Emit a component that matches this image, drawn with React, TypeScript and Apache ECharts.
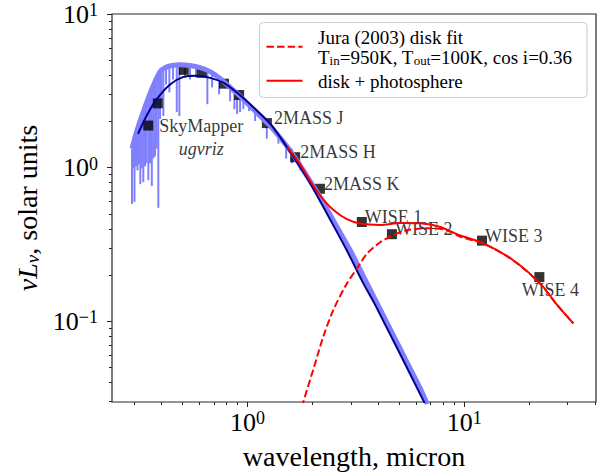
import React, { useEffect, useRef } from 'react';
import * as echarts from 'echarts';

// ---- photometry (squares) ----
const photWave = [0.349, 0.386, 0.509, 0.616, 0.78, 0.916, 1.23, 1.66, 2.16, 3.37, 4.64, 12.07, 22.2];
const photLum = [1.88, 2.62, 4.33, 4.14, 3.52, 2.97, 1.95, 1.17, 0.729, 0.443, 0.369, 0.335, 0.194];
const photLabels = ['SkyMapper', '', '', '', '', '', '2MASS J', '2MASS H', '2MASS K', 'WISE 1', 'WISE 2', 'WISE 3', 'WISE 4'];

// ---- photosphere model (dark blue) ----
const navyWave = [0.313, 0.343, 0.382, 0.44, 0.507, 0.584, 0.673, 0.775, 0.894, 1.066, 1.273, 1.416, 1.66, 1.947, 2.408, 2.875, 3.43, 3.884, 6.54, 7.2];
const navyLum = [1.66, 2.18, 2.79, 3.48, 3.9, 3.97, 3.84, 3.57, 3.08, 2.47, 1.93, 1.58, 1.13, 0.793, 0.459, 0.289, 0.176, 0.128, 0.0297, 0.0224];

// ---- observed spectrum (light blue): continuum band + absorption dips ----
const bandWave = [0.2937, 0.3064, 0.3198, 0.3372, 0.3556, 0.3751, 0.3956, 0.4171, 0.4493, 0.4892, 0.5439, 0.6048, 0.6729, 0.7477, 0.8321, 0.9254, 1.029, 1.144, 1.273, 1.416, 1.575, 1.751, 1.947, 2.165, 2.408, 2.678, 2.978, 3.313, 3.684, 4.097, 4.556, 5.067, 5.634, 6.266, 6.75];
const bandLum = [1.33, 1.661, 2.013, 2.476, 3.045, 3.637, 4.216, 4.473, 4.62, 4.68, 4.62, 4.473, 4.216, 3.802, 3.329, 2.914, 2.513, 2.168, 1.869, 1.565, 1.291, 1.035, 0.817, 0.6446, 0.4939, 0.3784, 0.2901, 0.2158, 0.1605, 0.1194, 0.0888, 0.0661, 0.0492, 0.0366, 0.0289];
const dipWave = [0.2937, 0.2984, 0.3016, 0.3064, 0.3113, 0.3164, 0.3208, 0.326, 0.3312, 0.3372, 0.3426, 0.3493, 0.3556, 0.3625, 0.3683, 0.3751, 0.3818, 0.3884, 0.3956, 0.4019, 0.4097, 0.4216, 0.4367, 0.4541, 0.4723, 0.4856, 0.5159, 0.5439, 0.5798, 0.6537, 0.6874, 0.7403, 0.8321, 0.871, 0.8965, 0.9254, 0.9583, 1.018, 1.085, 1.229, 1.39, 1.509, 1.603, 1.751];
const dipTop = [1.33, 1.411, 1.497, 1.636, 1.762, 1.897, 2.042, 2.168, 2.333, 2.476, 2.627, 2.829, 3.045, 3.231, 3.428, 3.637, 3.859, 4.034, 4.216, 4.343, 4.473, 4.539, 4.607, 4.607, 4.607, 4.607, 4.607, 4.607, 4.539, 4.343, 4.154, 3.859, 3.329, 3.184, 3.09, 2.914, 2.746, 2.55, 2.333, 1.897, 1.589, 1.37, 1.33, 1.035];
const dipBottom = [0.581, 0.99, 0.5985, 1.019, 0.961, 1.05, 0.781, 0.99, 0.805, 1.019, 1.066, 0.829, 1.066, 0.759, 1.147, 1.182, 1.33, 0.548, 2.073, 2.787, 2.168, 3.479, 3.09, 3.746, 2.299, 2.168, 3.859, 3.746, 3.859, 2.588, 3.329, 3.0, 2.705, 2.404, 2.232, 2.299, 2.404, 2.333, 2.013, 1.542, 1.432, 1.147, 1.066, 0.961];

// ---- Jura (2003) disk fit (red dashed) ----
const diskWave = [1.779, 2.017, 2.242, 2.494, 2.875, 3.198, 3.556, 4.097, 4.638, 5.441, 6.73, 8.17, 9.58, 12.28, 16.89, 22.42, 26.78, 31.84];
const diskLum = [0.0276, 0.049, 0.08, 0.119, 0.176, 0.22, 0.275, 0.327, 0.36, 0.392, 0.403, 0.395, 0.355, 0.32, 0.248, 0.175, 0.128, 0.097];

// ---- disk + photosphere (red solid) ----
const totWave = [1.53, 1.66, 1.751, 2.017, 2.242, 2.494, 2.875, 3.313, 4.097, 5.067, 6.266, 7.75, 9.58, 12.28, 16.89, 22.42, 26.78, 31.84];
const totLum = [1.36, 1.17, 1.05, 0.76, 0.62, 0.53, 0.462, 0.433, 0.424, 0.437, 0.434, 0.411, 0.362, 0.322, 0.249, 0.176, 0.128, 0.097];

// ---- axes ----
const xRange = [0.2375, 40.5];
const yRange = [0.02985, 10];
const xMajor = [1, 10];
const yMajor = [0.1, 1, 10];
const xMinor = [0.3, 0.4, 0.5, 0.6, 0.7, 0.8, 0.9, 2, 3, 4, 5, 6, 7, 8, 9, 20, 30, 40];
const yMinor = [0.03, 0.04, 0.05, 0.06, 0.07, 0.08, 0.09, 0.2, 0.3, 0.4, 0.5, 0.6, 0.7, 0.8, 0.9, 2, 3, 4, 5, 6, 7, 8, 9];

const FONT = '"Liberation Serif", "Times New Roman", serif';
const SPEC = '#8080ff';
const NAVY = '#00008b';
const RED = '#ff0000';
const L = (v: number) => Math.log10(v);

const supRich = {
  b: { fontSize: 26, fontFamily: FONT, color: '#000' },
  s: { fontSize: 18, fontFamily: FONT, color: '#000', verticalAlign: 'top', lineHeight: 10 },
};
const supFormatter = (v: number) => {
  const e = Math.round(v);
  return `{b|10}{s|${e < 0 ? '\u2212' + -e : e}}`;
};

const labelPlacement: Record<string, any> = {
  SkyMapper: {
    position: 'right', distance: 4, offset: [0, 12],
    formatter: '{a|SkyMapper}\n{i|ugvriz}',
    rich: {
      a: { fontFamily: FONT, fontSize: 18, color: '#000', width: 88, align: 'center', lineHeight: 23 },
      i: { fontFamily: FONT, fontSize: 18, color: '#000', fontStyle: 'italic', width: 88, align: 'center', lineHeight: 23 },
    },
  },
  '2MASS J': { position: 'right', distance: 2, offset: [0, -5] },
  '2MASS H': { position: 'right', distance: 0, offset: [0, -5] },
  '2MASS K': { position: 'right', distance: -1, offset: [0, -5] },
  'WISE 1': { position: 'right', distance: -2, offset: [0, -5] },
  'WISE 2': { position: 'right', distance: -2, offset: [0, -5] },
  'WISE 3': { position: 'right', distance: -2, offset: [0, -5] },
  'WISE 4': { position: 'bottom', distance: 0, offset: [11, -1] },
};

export default function App() {
  const ref = useRef<HTMLDivElement>(null);
  useEffect(() => {
    const chart = echarts.init(ref.current!, null, { renderer: 'svg' });
    const pts = (w: number[], v: number[]) => w.map((x, i) => [L(x), L(v[i])]);

    const tickLine = { color: '#262626', width: 1 };
    const noLine = { show: false, onZero: false };
    const option: any = {
      animation: false,
      grid: { left: 112, top: 14, width: 484, height: 393, show: true, borderColor: '#262626', borderWidth: 1.2, containLabel: false },
      xAxis: [
        {
          type: 'value', min: L(xRange[0]), max: L(xRange[1]),
          axisLine: noLine, splitLine: { show: false }, minorSplitLine: { show: false },
          axisTick: { show: true, inside: false, length: 5, customValues: xMajor.map(L), lineStyle: tickLine },
          axisLabel: { show: true, margin: 7, customValues: xMajor.map(L), formatter: supFormatter, rich: supRich },
          name: 'wavelength, micron', nameLocation: 'middle', nameGap: 40,
          nameTextStyle: { fontFamily: FONT, fontSize: 28, color: '#000' },
        },
        {
          type: 'value', position: 'bottom', min: L(xRange[0]), max: L(xRange[1]),
          axisLine: noLine, splitLine: { show: false }, minorSplitLine: { show: false },
          axisTick: { show: true, inside: false, length: 3, customValues: xMinor.map(L), lineStyle: tickLine },
          axisLabel: { show: false },
        },
      ],
      yAxis: [
        {
          type: 'value', min: L(yRange[0]), max: L(yRange[1]),
          axisLine: noLine, splitLine: { show: false }, minorSplitLine: { show: false },
          axisTick: { show: true, inside: false, length: 5, customValues: yMajor.map(L), lineStyle: tickLine },
          axisLabel: { show: true, margin: 14, customValues: yMajor.map(L), formatter: supFormatter, rich: supRich },
          name: '{i|\u03bdL}{s|\u03bd}{r|, solar units}', nameLocation: 'middle', nameGap: 66, nameRotate: 90,
          nameTextStyle: {
            fontFamily: FONT, fontSize: 28, color: '#000',
            rich: {
              i: { fontFamily: FONT, fontSize: 28, fontStyle: 'italic', color: '#000' },
              s: { fontFamily: FONT, fontSize: 19, fontStyle: 'italic', color: '#000', verticalAlign: 'bottom', lineHeight: 8 },
              r: { fontFamily: FONT, fontSize: 28, color: '#000' },
            },
          },
        },
        {
          type: 'value', position: 'left', min: L(yRange[0]), max: L(yRange[1]),
          axisLine: noLine, splitLine: { show: false }, minorSplitLine: { show: false },
          axisTick: { show: true, inside: false, length: 3, customValues: yMinor.map(L), lineStyle: tickLine },
          axisLabel: { show: false },
        },
      ],
      series: [
        {
          type: 'custom', name: 'spectrum lines', xAxisIndex: 0, yAxisIndex: 0, clip: true,
          encode: { x: 0, y: 1 },
          data: dipWave.map((w, i) => [L(w), L(dipTop[i]), L(dipBottom[i])]),
          renderItem: (_p: any, api: any) => {
            const a = api.coord([api.value(0), api.value(1)]);
            const b = api.coord([api.value(0), api.value(2)]);
            return { type: 'line', shape: { x1: a[0], y1: a[1], x2: b[0], y2: b[1] }, style: { stroke: SPEC, lineWidth: 2 } };
          },
        },
        {
          type: 'line', name: 'spectrum', xAxisIndex: 0, yAxisIndex: 0, data: pts(bandWave, bandLum),
          showSymbol: false, symbol: 'none', smooth: 0.3, lineStyle: { color: SPEC, width: 5, join: 'round' },
        },
        {
          type: 'line', name: 'photosphere', xAxisIndex: 0, yAxisIndex: 0, data: pts(navyWave, navyLum),
          showSymbol: false, symbol: 'none', smooth: 0.3, lineStyle: { color: NAVY, width: 2 },
        },
        {
          type: 'line', name: 'Jura (2003) disk fit', xAxisIndex: 0, yAxisIndex: 0, data: pts(diskWave, diskLum),
          showSymbol: false, symbol: 'none', smooth: 0.3, lineStyle: { color: RED, width: 2, type: [7.4, 3.2] },
        },
        {
          type: 'line', name: 'disk + photosphere', xAxisIndex: 0, yAxisIndex: 0, data: pts(totWave, totLum),
          showSymbol: false, symbol: 'none', smooth: 0.3, lineStyle: { color: RED, width: 2 },
        },
        {
          type: 'scatter', name: 'photometry', xAxisIndex: 0, yAxisIndex: 0, symbol: 'rect', symbolSize: 10,
          itemStyle: { color: '#000' },
          data: photWave.map((w, i) => ({
            value: [L(w), L(photLum[i])],
            label: photLabels[i]
              ? { show: true, formatter: photLabels[i], fontFamily: FONT, fontSize: 18, color: '#000', ...labelPlacement[photLabels[i]] }
              : { show: false },
          })),
        },
      ],
      graphic: [
        {
          type: 'group', z: 100,
          children: [
            { type: 'rect', shape: { x: 259.5, y: 22.5, width: 327.5, height: 75, r: 4 }, style: { fill: 'rgba(255,255,255,0.8)', stroke: '#cccccc', lineWidth: 1 } },
            { type: 'line', shape: { x1: 266.5, y1: 46.7, x2: 302.5, y2: 46.7 }, style: { stroke: RED, lineWidth: 2, lineDash: [7.4, 3.2] } },
            { type: 'line', shape: { x1: 266.5, y1: 80.7, x2: 302.5, y2: 80.7 }, style: { stroke: RED, lineWidth: 2 } },
            { type: 'text', x: 318, y: 37.3, style: { text: 'Jura (2003) disk fit', fontFamily: FONT, fontSize: 19, fill: '#000', verticalAlign: 'middle' } },
            {
              type: 'text', x: 318, y: 57.3,
              style: {
                text: '{n|T}{s|in}{n|=950K, T}{s|out}{n|=100K, cos i=0.36}', fontFamily: FONT, fontSize: 19, fill: '#000', verticalAlign: 'middle',
                rich: {
                  n: { fontFamily: FONT, fontSize: 19, fill: '#000' },
                  s: { fontFamily: FONT, fontSize: 13, fill: '#000', verticalAlign: 'bottom', lineHeight: 8 },
                },
              },
            },
            { type: 'text', x: 318, y: 81.3, style: { text: 'disk + photosphere', fontFamily: FONT, fontSize: 19, fill: '#000', verticalAlign: 'middle' } },
          ],
        },
      ],
    };
    chart.setOption(option);
    return () => chart.dispose();
  }, []);
  return <div ref={ref} style={{ position: 'absolute', left: 0, top: 0, width: 609, height: 475 }} />;
}
